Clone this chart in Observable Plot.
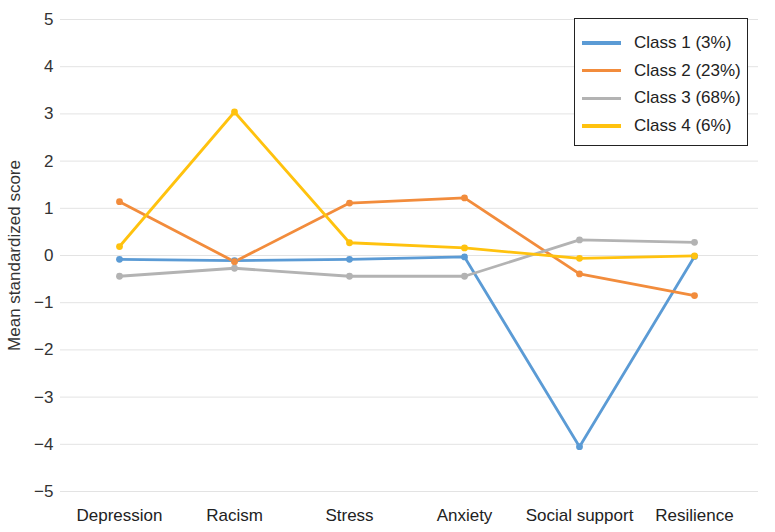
<!DOCTYPE html>
<html>
<head>
<meta charset="utf-8">
<script src="https://cdn.jsdelivr.net/npm/d3@7"></script>
<script src="https://cdn.jsdelivr.net/npm/@observablehq/plot@0.6"></script>
<style>
  html, body { margin: 0; padding: 0; background: #fff; }
  #wrap { position: relative; width: 775px; height: 532px; font-family: "Liberation Sans", Arial, sans-serif; }
  #legend { position: absolute; left: 574px; top: 18px; width: 174px; height: 128px; border: 1px solid #222; background: #fff; box-sizing: border-box; }
  .row { position: absolute; left: 7px; height: 20px; display: flex; align-items: center; font-size: 17px; color: #222; white-space: nowrap; }
  .sw { width: 39px; height: 3.5px; margin-right: 13px; }
</style>
</head>
<body>
<div id="wrap"><div id="chart"></div><div id="legend"></div></div>
<script>
const categories = ["Depression", "Racism", "Stress", "Anxiety", "Social support", "Resilience"];
const seriesNames = ["Class 1 (3%)", "Class 2 (23%)", "Class 3 (68%)", "Class 4 (6%)"];
const seriesColors = ["#5B9BD5", "#F28C3C", "#B3B3B3", "#FFC20E"];
const class1 = [-0.08, -0.11, -0.08, -0.03, -4.05, -0.02];
const class2 = [1.14, -0.13, 1.11, 1.22, -0.39, -0.85];
const class3 = [-0.44, -0.27, -0.44, -0.44, 0.33, 0.28];
const class4 = [0.19, 3.04, 0.27, 0.16, -0.06, -0.01];
const yTicks = [-5, -4, -3, -2, -1, 0, 1, 2, 3, 4, 5];

const allSeries = [class1, class2, class3, class4];
const data = allSeries.flatMap((vals, i) =>
  vals.map((v, j) => ({ series: seriesNames[i], category: categories[j], value: v }))
);

const chart = Plot.plot({
  width: 775,
  height: 532,
  marginLeft: 60,
  marginRight: 17,
  marginTop: 19,
  marginBottom: 41,
  style: { fontFamily: "Liberation Sans, Arial, sans-serif", fontSize: "17px", color: "#333" },
  x: { type: "point", domain: categories, range: [60, 753], label: null },
  y: { domain: [-5, 5], label: null },
  color: { domain: seriesNames, range: seriesColors },
  marks: [
    Plot.gridY(yTicks, { stroke: "#e3e3e3", strokeOpacity: 1, strokeWidth: 1 }),
    Plot.axisY(yTicks, { tickSize: 0, tickPadding: 7, fontSize: 17, fill: "#333", label: "Mean standardized score", labelAnchor: "center", labelArrow: "none", labelOffset: 53 }),
    Plot.axisX({ tickSize: 0, tickPadding: 17, fontSize: 17, fill: "#222", label: null }),
    Plot.line(data, { x: "category", y: "value", z: "series", stroke: "series", strokeWidth: 2.8 }),
    Plot.dot(data, { x: "category", y: "value", fill: "series", r: 3.4 })
  ]
});
document.getElementById("chart").appendChild(chart);

const legend = document.getElementById("legend");
seriesNames.forEach((name, i) => {
  const row = document.createElement("div");
  row.className = "row";
  row.style.top = (14 + i * 27.7) + "px";
  const sw = document.createElement("span");
  sw.className = "sw";
  sw.style.background = seriesColors[i];
  const t = document.createElement("span");
  t.textContent = name;
  row.appendChild(sw);
  row.appendChild(t);
  legend.appendChild(row);
});
</script>
</body>
</html>
